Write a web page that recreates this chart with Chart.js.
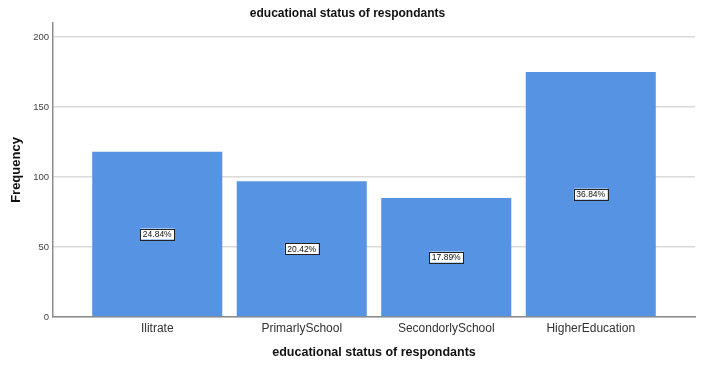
<!DOCTYPE html>
<html>
<head>
<meta charset="utf-8">
<script src="https://cdn.jsdelivr.net/npm/chart.js@4.4.1/dist/chart.umd.min.js"></script>
<style>
  html, body { margin: 0; padding: 0; background: #fff; }
  #wrap { width: 706px; height: 371px; }
</style>
</head>
<body>
<div id="wrap"><canvas id="eduChart" width="706" height="371"></canvas></div>
<script>
// data
const categories = ["Ilitrate", "PrimarlySchool", "SecondorlySchool", "HigherEducation"];
const frequency = [118, 97, 85, 175];
const percentLabels = ["24.84%", "20.42%", "17.89%", "36.84%"];
const yTicks = [0, 50, 100, 150, 200];

// draws the small boxed percent labels in the middle of each bar
const boxLabels = {
  id: "boxLabels",
  afterDatasetsDraw(chart) {
    const ctx = chart.ctx;
    const meta = chart.getDatasetMeta(0);
    ctx.save();
    ctx.font = "8.5px Arial, 'Liberation Sans', sans-serif";
    ctx.textAlign = "center";
    ctx.textBaseline = "middle";
    meta.data.forEach((bar, i) => {
      const cy = (bar.y + bar.base) / 2;
      const txt = percentLabels[i];
      const w = ctx.measureText(txt).width + 5;
      const h = 11;
      ctx.fillStyle = "#fff";
      ctx.fillRect(bar.x - w / 2, cy - h / 2, w, h);
      ctx.strokeStyle = "#222";
      ctx.lineWidth = 1;
      ctx.strokeRect(Math.round(bar.x - w / 2) + 0.5, Math.round(cy - h / 2) + 0.5, Math.round(w), h);
      ctx.fillStyle = "#111";
      ctx.fillText(txt, bar.x, cy + 0.5);
    });
    ctx.restore();
  }
};

const ctx = document.getElementById("eduChart").getContext("2d");
new Chart(ctx, {
  type: "bar",
  data: {
    datasets: [{
      data: categories.map((c, i) => ({ x: i, y: frequency[i] })),
      backgroundColor: "#5694e3",
      borderWidth: 0,
      barPercentage: 0.9,
      categoryPercentage: 1.0
    }]
  },
  options: {
    responsive: false,
    animation: false,
    layout: { padding: { left: 0, right: 11, top: 0, bottom: 0 } },
    plugins: {
      legend: { display: false },
      tooltip: { enabled: false },
      title: {
        display: true,
        text: "educational status of respondants",
        color: "#111",
        font: { family: "Arial, 'Liberation Sans', sans-serif", size: 12, weight: "bold" },
        padding: { top: 6, bottom: 2.6 }
      }
    },
    scales: {
      x: {
        type: "linear",
        min: -0.7215,
        max: 3.7215,
        offset: false,
        afterBuildTicks: (scale) => { scale.ticks = categories.map((c, i) => ({ value: i })); },
        afterFit: (scale) => { scale.height = 54; },
        grid: { display: false, drawTicks: false },
        border: { display: true, color: "#8c8c8c", width: 1.5 },
        ticks: {
          autoSkip: false,
          maxRotation: 0,
          padding: 4,
          color: "#333",
          font: { family: "Arial, 'Liberation Sans', sans-serif", size: 12 },
          callback: (v) => categories[v]
        },
        title: {
          display: true,
          text: "educational status of respondants",
          color: "#111",
          font: { family: "Arial, 'Liberation Sans', sans-serif", size: 12.5, weight: "bold" },
          padding: { top: 0, bottom: 11 }
        }
      },
      y: {
        min: 0,
        max: 210,
        afterBuildTicks: (scale) => { scale.ticks = yTicks.map(v => ({ value: v })); },
        afterFit: (scale) => { scale.width = 53; },
        grid: { color: "#dadada", lineWidth: 1.5, drawTicks: false },
        border: { display: true, color: "#8c8c8c", width: 1.5 },
        ticks: {
          padding: 4,
          color: "#444",
          font: { family: "Arial, 'Liberation Sans', sans-serif", size: 9.5 }
        },
        title: {
          display: true,
          text: "Frequency",
          color: "#111",
          font: { family: "Arial, 'Liberation Sans', sans-serif", size: 13, weight: "bold" },
          padding: { top: 9, bottom: 0 }
        }
      }
    }
  },
  plugins: [boxLabels]
});
</script>
</body>
</html>
